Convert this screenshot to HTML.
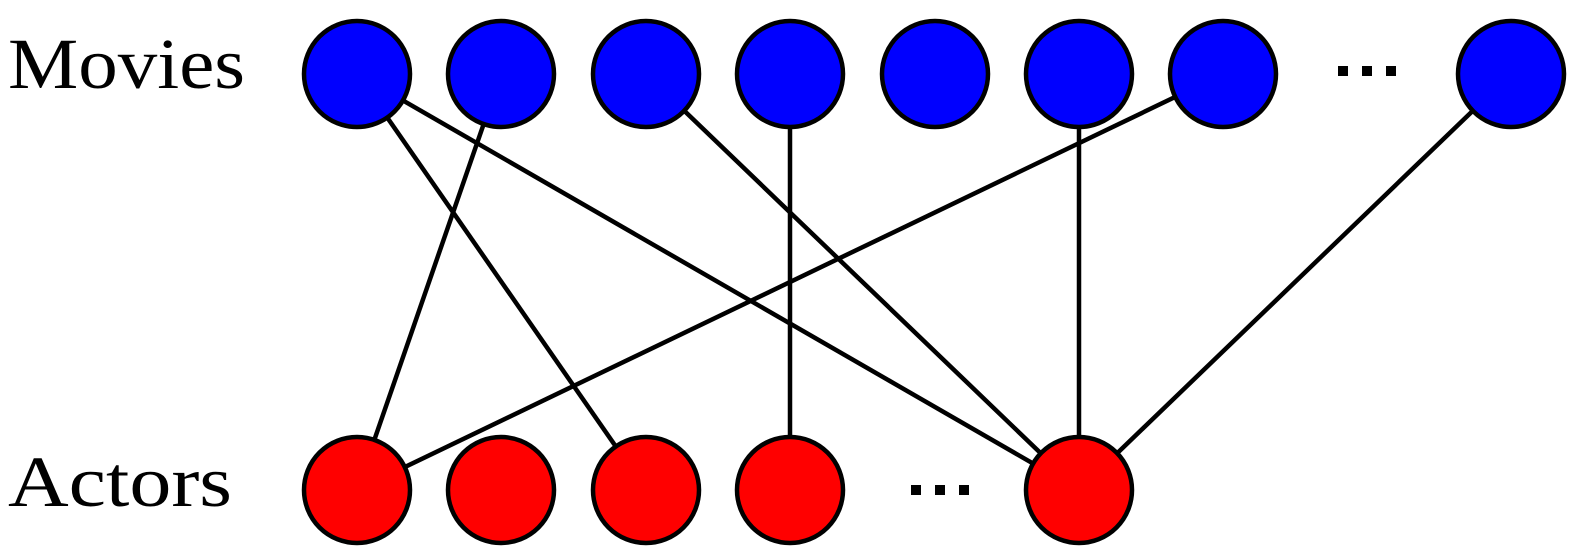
<!DOCTYPE html>
<html><head><style>html,body{margin:0;padding:0;background:#fff;}</style></head>
<body>
<svg width="1577" height="550" xmlns="http://www.w3.org/2000/svg">
<g stroke="#000" stroke-width="4.5">
<line x1="357" y1="74" x2="646" y2="490"/>
<line x1="357" y1="74" x2="1079" y2="490"/>
<line x1="501" y1="74" x2="357" y2="490"/>
<line x1="646" y1="74" x2="1079" y2="490"/>
<line x1="790" y1="74" x2="790" y2="490"/>
<line x1="1079" y1="74" x2="1079" y2="490"/>
<line x1="1223" y1="74" x2="357" y2="490"/>
<line x1="1511" y1="74" x2="1079" y2="490"/>
</g>
<g stroke="#000" stroke-width="4.5" fill="#0000ff">
<circle cx="357" cy="74" r="53"/><circle cx="501" cy="74" r="53"/><circle cx="646" cy="74" r="53"/><circle cx="790" cy="74" r="53"/><circle cx="935" cy="74" r="53"/><circle cx="1079" cy="74" r="53"/><circle cx="1223" cy="74" r="53"/><circle cx="1511" cy="74" r="53"/>
</g>
<g stroke="#000" stroke-width="4.5" fill="#ff0000">
<circle cx="357" cy="490" r="53"/><circle cx="501" cy="490" r="53"/><circle cx="646" cy="490" r="53"/><circle cx="790" cy="490" r="53"/><circle cx="1079" cy="490" r="53"/>
</g>
<g fill="#000">
<rect x="1338" y="66" width="10" height="10"/><rect x="1362" y="66" width="10" height="10"/><rect x="1386" y="66" width="10" height="10"/>
<rect x="911" y="485" width="10" height="10"/><rect x="935" y="485" width="10" height="10"/><rect x="959" y="485" width="10" height="10"/>
</g>
<text x="8" y="88" font-family="Liberation Serif, serif" font-size="72" textLength="237" lengthAdjust="spacingAndGlyphs">Movies</text>
<text x="8" y="506" font-family="Liberation Serif, serif" font-size="72" textLength="224" lengthAdjust="spacingAndGlyphs">Actors</text>
</svg>
</body></html>
